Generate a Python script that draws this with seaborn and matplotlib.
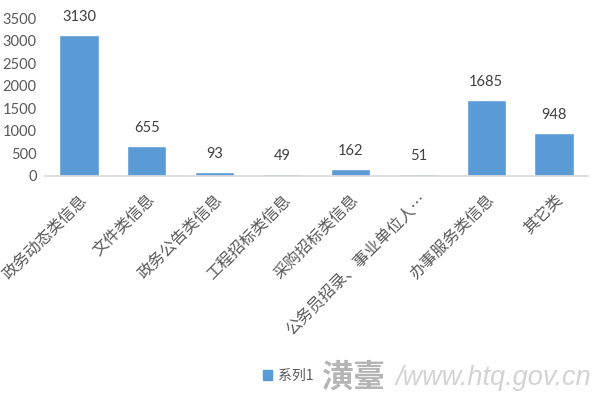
import matplotlib
matplotlib.use("Agg")
import matplotlib.pyplot as plt
import seaborn as sns
import pandas as pd
from matplotlib.patches import Patch

categories = ["政务动态类信息", "文件类信息", "政务公告类信息", "工程招标类信息",
              "采购招标类信息", "公务员招录、事业单位人…", "办事服务类信息", "其它类"]
values = [3130, 655, 93, 49, 162, 51, 1685, 948]
series_name = "系列1"

sns.set_theme(style="white")
plt.rcParams['font.family'] = ['Lato', 'Noto Sans CJK SC', 'DejaVu Sans']

df = pd.DataFrame({"cat": categories, "val": values})

fig = plt.figure(figsize=(6, 4), dpi=100)
ax = fig.add_axes([0.075, 0.56, 0.905, 0.395])
sns.barplot(data=df, x="cat", y="val", color="#5B9BD5", width=0.58, saturation=1, ax=ax)

ax.set_ylim(0, 3500)
ax.set_yticks(range(0, 3501, 500))
ax.set_xlabel("")
ax.set_ylabel("")
for s in ["top", "right", "left"]:
    ax.spines[s].set_visible(False)
ax.spines["bottom"].set_color("#D9D9D9")
ax.tick_params(axis="y", labelsize=10.5, colors="#595959", length=0, pad=6)
ax.tick_params(axis="x", length=0, pad=11)
ax.set_xticks(range(len(categories)))
ax.set_xticklabels(categories, rotation=45, ha="right", rotation_mode="anchor",
                   fontsize=11.5, color="#595959", family=['Noto Sans CJK SC', 'DejaVu Sans'])

for c in ax.containers:
    ax.bar_label(c, labels=[str(v) for v in values], padding=8, fontsize=10.5, color="#404040")

leg = fig.legend(handles=[Patch(color="#5B9BD5")], labels=[series_name],
                 loc="center", bbox_to_anchor=(0.48, 0.06), frameon=False,
                 handlelength=0.7, handleheight=0.7, handletextpad=0.4,
                 prop={'family': ['Noto Sans CJK SC', 'DejaVu Sans'], 'size': 10})
for t in leg.get_texts():
    t.set_color("#595959")

fig.text(0.535, 0.055, "潢臺", fontsize=23, color="#a8a8a8", alpha=0.85,
         family=['Noto Sans CJK SC'], fontweight="bold", va="center")
fig.text(0.66, 0.055, "/www.htq.gov.cn", fontsize=19.5, color="#d3d3d3",
         style="italic", family=['Liberation Sans'], va="center")

fig.savefig("out.png", dpi=100)
